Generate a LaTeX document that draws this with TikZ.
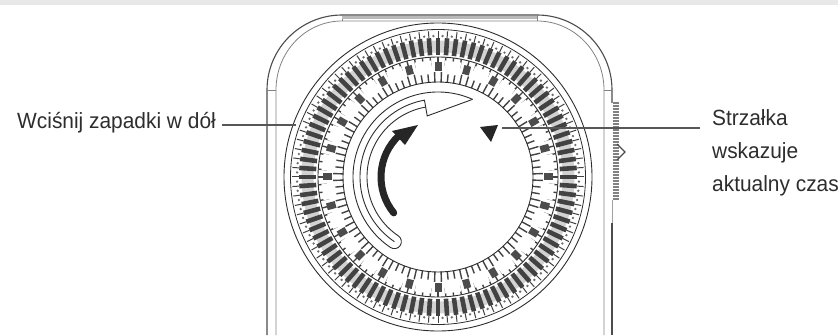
\documentclass[tikz,border=0pt]{standalone}
\usepackage{fontspec}
\setmainfont{Liberation Sans}
\usetikzlibrary{positioning}
\definecolor{DialInk}{RGB}{45, 45, 45}
\definecolor{BandGray}{RGB}{232, 232, 232}
\tikzset{
    callout/.style={font=\fontsize{22}{33}\selectfont, text=DialInk, inner sep=0pt, align=left, xscale=0.95, transform shape},
    leader/.style={line width=1.2pt, draw=DialInk!80},
    ring/.style={line width=0.9pt, draw=DialInk},
    housing/.style={line width=1.1pt, draw=DialInk!85},
}
\begin{document}
\begin{tikzpicture}[x=1pt, y=1pt]
    \useasboundingbox (0,0) rectangle (838,335);
    \fill[BandGray] (0,330) rectangle (838,335);
    % housing
    \draw[housing] (267,0) -- (267,245) arc (180:90:75) -- (537,320) arc (90:0:75) -- (612,232);
    \draw[housing, line width=0.8pt, draw=DialInk!60] (276,0) -- (276,245) arc[start angle=180, end angle=90, x radius=66, y radius=69] -- (537,314) arc[start angle=90, end angle=0, x radius=67, y radius=69] -- (604,0);
    \draw[housing, line width=0.7pt, draw=DialInk!60] (267,245) -- (276,245) (604,245) -- (612,245) (342,314) -- (342,320) (537,314) -- (537,320);
    \fill[gray!55] (342,315.5) rectangle (537,319);
    \draw[line width=1.3pt, draw=DialInk!85] (612,112) -- (612,0);
    \draw[line width=0.7pt, draw=DialInk!45] (612,135) -- (612,112);
    % side marks
    \foreach \y in {136,139,...,232} {
        \draw[line width=1.2pt, draw=DialInk!60] (612.5,\y) -- (619,\y);
    }
    \draw[line width=1.4pt, draw=DialInk!85] (617,191) -- (625,183) -- (617,175);
    % dial
    \begin{scope}[shift={(438,158)}]
        \draw[ring] (0,0) circle (154);
        \draw[ring, line width=0.8pt] (0,0) circle (147.5);
        \draw[line width=12pt, draw=gray!35] (0,0) circle (130.5);
        \foreach \a in {0,3.75,...,356.25} {
            \draw[line width=4.6pt, draw=DialInk!90] (\a:122) -- (\a:139);
            \fill[DialInk!70] (\a+1.875:141) circle (1.3);
            \draw[line width=1pt, draw=DialInk!90] (\a:139) -- (\a:146);
        }
        \draw[ring, line width=0.9pt] (0,0) circle (120);
        \foreach \a in {0,3.75,...,356.25} {
            \draw[line width=1.4pt, draw=DialInk!90] (\a:111) -- (\a:120);
            \draw[line width=1.4pt, draw=DialInk!90] (\a+1.875:95) -- (\a+1.875:105);
        }
        \foreach \a in {0,15,...,345} {
            \fill[white, rotate=\a+7.5] (103,-8) rectangle (116.5,8);
            \fill[DialInk!85, rotate=\a] (106,-3.5) rectangle (115,3.5);
        }
        \draw[ring] (0,0) circle (95);
        % slot
        \draw[ring] (66:85) arc[start angle=66, end angle=236, radius=85] arc[start angle=236, end angle=416, radius=7] arc[start angle=236, end angle=100, radius=71];
        \draw[ring] (236:78) arc[start angle=236, end angle=100, radius=78] -- (100:62) -- (66:85);
        % arrow
        \draw[line width=7pt, draw=black!85, line cap=round] (219:57) arc (219:133:57);
        \fill[black!85] (-20,52) -- (-46,46) -- (-33,32) -- cycle;
        % pointer
        \fill[black!85] (42,50) -- (60,52) -- (53,35) -- cycle;
    \end{scope}
    % labels
    \node[callout, anchor=west] (pawls) at (17,212) {Wciśnij zapadki w dół};
    \node[callout, anchor=north west] (arrowtext) at (712,226) {Strzałka\\wskazuje\\aktualny czas};
    \coordinate (pawlsend) at (296,210);
    \coordinate (pointer) at (502,207);
    \coordinate (arrowtextstart) at (700,207);
    \draw[leader] (222,210) -- (pawlsend);
    \draw[leader] (pointer) -- (arrowtextstart);
\end{tikzpicture}
\end{document}
